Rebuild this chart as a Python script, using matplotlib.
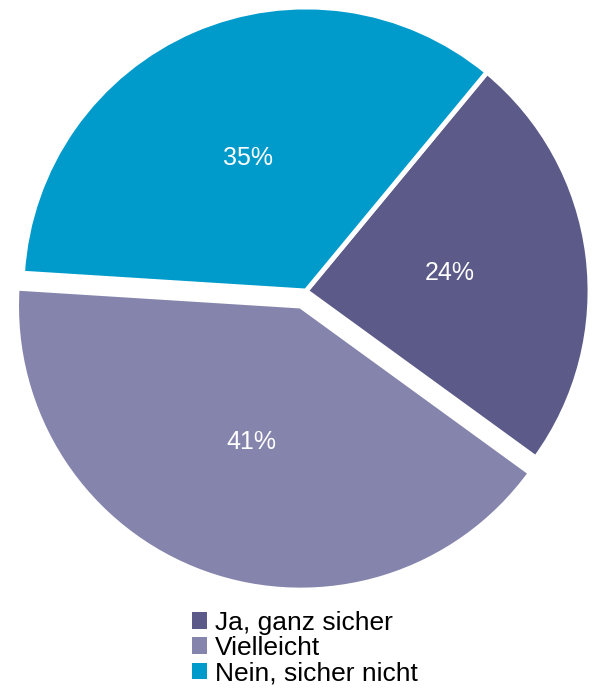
import matplotlib.pyplot as plt
from matplotlib.patches import Patch

plt.rcParams['font.family'] = ['Liberation Sans', 'DejaVu Sans']

labels = ["Ja, ganz sicher", "Vielleicht", "Nein, sicher nicht"]
values = [24, 41, 35]
colors = ["#5b5a89", "#8584ad", "#009bcb"]
# offset of the middle slice (in axes data units, i.e. pixels here)
explode = [0.0, 16.0, 0.0]

fig = plt.figure(figsize=(5.92, 6.88), dpi=100)
ax = fig.add_axes([0, 0, 1, 1])

wedges, texts, autotexts = ax.pie(
    values,
    colors=colors,
    explode=explode,
    startangle=50.4,
    counterclock=False,
    center=(306, 397),
    radius=284,
    autopct="%1.0f%%",
    pctdistance=0.51,
    wedgeprops=dict(edgecolor="white", linewidth=3.5),
    textprops=dict(color="white", fontsize=18),
    frame=True,
)
ax.axis("off")
ax.set_xlim(0, 592)
ax.set_ylim(0, 688)
ax.set_aspect("equal")

handles = [Patch(facecolor=c, edgecolor="none") for c in colors]
fig.legend(
    handles, labels,
    loc="center", bbox_to_anchor=(0.515, 0.058),
    frameon=False, fontsize=19,
    handlelength=0.6, handleheight=0.6, handletextpad=0.3,
    labelspacing=0.05, borderpad=0,
)

fig.savefig("out.png", dpi=100)
